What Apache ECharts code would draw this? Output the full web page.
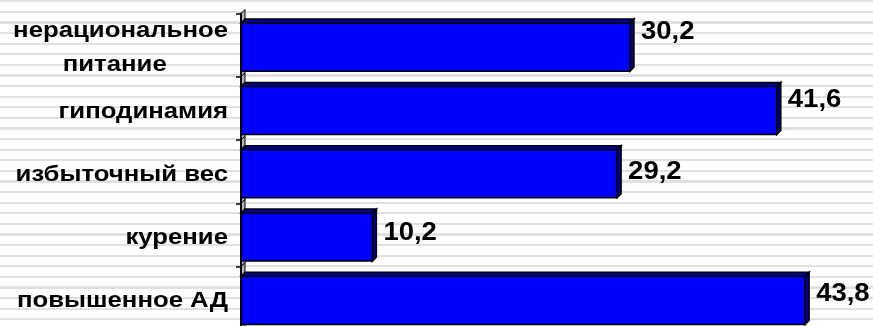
<!DOCTYPE html>
<html>
<head>
<meta charset="utf-8">
<script src="https://cdn.jsdelivr.net/npm/echarts@6/dist/echarts.min.js"></script>
<style>
html,body{margin:0;padding:0;background:#fff;}
#chart{width:873px;height:326px;
background:repeating-linear-gradient(to bottom,#fff 0px,#fff 0.2px,#e0e0e0 0.2px,#e0e0e0 2.4px,#fff 2.4px,#fff 10.6px);}
</style>
</head>
<body>
<div id="chart"></div>
<script>
const categories = ['нерациональное\nпитание', 'гиподинамия', 'избыточный вес', 'курение', 'повышенное АД'];
const values = [30.2, 41.6, 29.2, 10.2, 43.8];
const valueLabels = ['30,2', '41,6', '29,2', '10,2', '43,8'];

const chart = echarts.init(document.getElementById('chart'), null, {renderer: 'canvas'});
const FONT = '"Liberation Sans", Arial, sans-serif';
const labelDy = [-15, -10, -2, -4, -6];
const DEPTH = 4;

function renderItem(params, api) {
  const v = api.value(0);
  const idx = api.value(1);
  const p0 = api.coord([0, idx]);
  const p1 = api.coord([v, idx]);
  const band = api.size([0, 1])[1];
  const h = band * 0.76;
  const d = DEPTH;
  const yc = p0[1] + d / 2;
  const x0 = p0[0], x1 = p1[0];
  const y0 = yc - h / 2, y1 = yc + h / 2;
  const bt = p0[1] - band / 2, bb = p0[1] + band / 2;
  const lw = 1.5;
  const cat = categories[idx];
  const parts = cat.split('\n');
  const catText = parts.length === 1 ? '{a|' + cat + '}' : '{a|' + parts[0] + '}\n{b|' + parts[1] + '}';
  return {
    type: 'group',
    children: [
      {type: 'polygon', shape: {points: [[x0, bt], [x0 + d, bt - d], [x0 + d, bb - d], [x0, bb]]},
        style: {fill: '#b4b4b4', stroke: '#000', lineWidth: 1}},
      {type: 'polygon', shape: {points: [[x0, y0], [x0 + d, y0 - d], [x1 + d, y0 - d], [x1, y0]]},
        style: {fill: '#00009a', stroke: '#000', lineWidth: lw}},
      {type: 'polygon', shape: {points: [[x1, y0], [x1 + d, y0 - d], [x1 + d, y1 - d], [x1, y1]]},
        style: {fill: '#000080', stroke: '#000', lineWidth: lw}},
      {type: 'rect', shape: {x: x0, y: y0, width: x1 - x0, height: h},
        style: {fill: '#0000ff', stroke: '#000', lineWidth: lw}},
      {type: 'text', x: x1 + d + 7, y: yc + labelDy[idx], scaleX: 1.1,
        style: {text: valueLabels[idx], fill: '#000', font: 'bold 25px ' + FONT,
          verticalAlign: 'middle', align: 'left'}},
      {type: 'text', x: x0 - 13, y: p0[1] + 3, scaleX: 1.17,
        style: {text: catText, fill: '#000', align: 'right', verticalAlign: 'middle',
          rich: {
            a: {fontFamily: FONT, fontWeight: 'bold', fontSize: 22, fill: '#000', lineHeight: 34},
            b: {fontFamily: FONT, fontWeight: 'bold', fontSize: 22, fill: '#000', lineHeight: 34, align: 'center', padding: [0, 10, 0, 0]}
          }}}
    ]
  };
}

chart.setOption({
  animation: false,
  grid: {left: 241, top: 13.5, width: 644, height: 316.5, containLabel: false, outerBoundsMode: 'none'},
  xAxis: {type: 'value', min: 0, max: 50, show: false},
  yAxis: {
    type: 'category', data: categories, inverse: true, z: 5,
    axisLine: {show: true, lineStyle: {color: '#000', width: 2}},
    axisTick: {show: true, length: 5, lineStyle: {color: '#000', width: 1.5}},
    splitLine: {show: false},
    axisLabel: {show: false}
  },
  series: [{
    type: 'custom',
    renderItem: renderItem,
    encode: {x: 0, y: 1},
    data: values.map((v, i) => [v, i]),
    clip: false
  }]
});
</script>
</body>
</html>
